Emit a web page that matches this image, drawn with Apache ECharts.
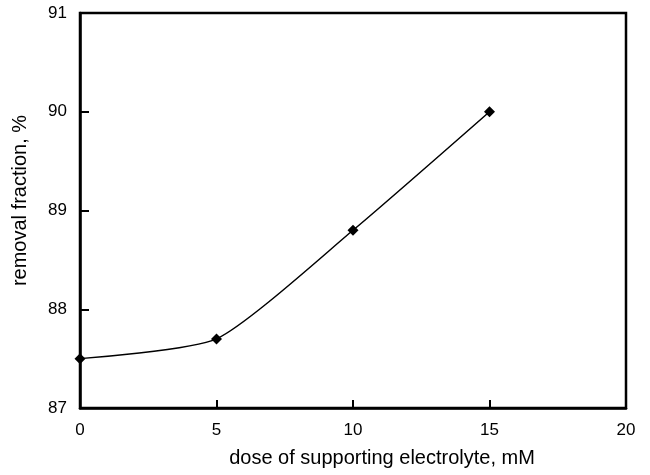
<!DOCTYPE html>
<html>
<head>
<meta charset="utf-8">
<script src="https://cdn.jsdelivr.net/npm/echarts@6/dist/echarts.min.js"></script>
<style>
  html, body { margin: 0; padding: 0; background: #fff; }
  #chart { width: 650px; height: 475px; }
</style>
</head>
<body>
<div id="chart"></div>
<script>
const doseValues = [0, 5, 10, 15];
const removalValues = [87.5, 87.7, 88.8, 90.0];

const points = doseValues.map((x, i) => [x, removalValues[i]]);

const font = 'Liberation Sans, Arial, sans-serif';

const option = {
  animation: false,
  grid: {
    left: 80,
    right: 24,
    top: 13,
    bottom: 67,
    show: true,
    borderColor: '#000',
    borderWidth: 2.5,
  },
  xAxis: {
    type: 'value',
    min: 0,
    max: 20,
    interval: 5,
    name: 'dose of supporting electrolyte, mM',
    nameLocation: 'middle',
    nameGap: 40,
    nameTextStyle: { fontSize: 20, color: '#000', fontFamily: font, padding: [0, 0, 0, 58] },
    axisLine: { show: true, lineStyle: { color: '#000', width: 2.5 } },
    axisTick: { show: true, inside: true, length: 8, lineStyle: { color: '#000', width: 2 } },
    axisLabel: { fontSize: 17, color: '#000', fontFamily: font, margin: 14 },
    splitLine: { show: false },
  },
  yAxis: {
    type: 'value',
    min: 87,
    max: 91,
    interval: 1,
    name: 'removal fraction, %',
    nameLocation: 'middle',
    nameGap: 50,
    nameTextStyle: { fontSize: 20, color: '#000', fontFamily: font, padding: [0, 0, 0, 20] },
    axisLine: { show: true, lineStyle: { color: '#000', width: 2.5 } },
    axisTick: { show: true, inside: true, length: 9, lineStyle: { color: '#000', width: 2 } },
    axisLabel: { fontSize: 17, color: '#000', fontFamily: font, margin: 13 },
    splitLine: { show: false },
  },
  series: [
    {
      type: 'line',
      data: points,
      smooth: 0.2,
      symbol: 'diamond',
      symbolSize: 11,
      itemStyle: { color: '#000' },
      lineStyle: { color: '#000', width: 1.5 },
    }
  ],
};

const chart = echarts.init(document.getElementById('chart'), null, { renderer: 'canvas' });
chart.setOption(option);
</script>
</body>
</html>
